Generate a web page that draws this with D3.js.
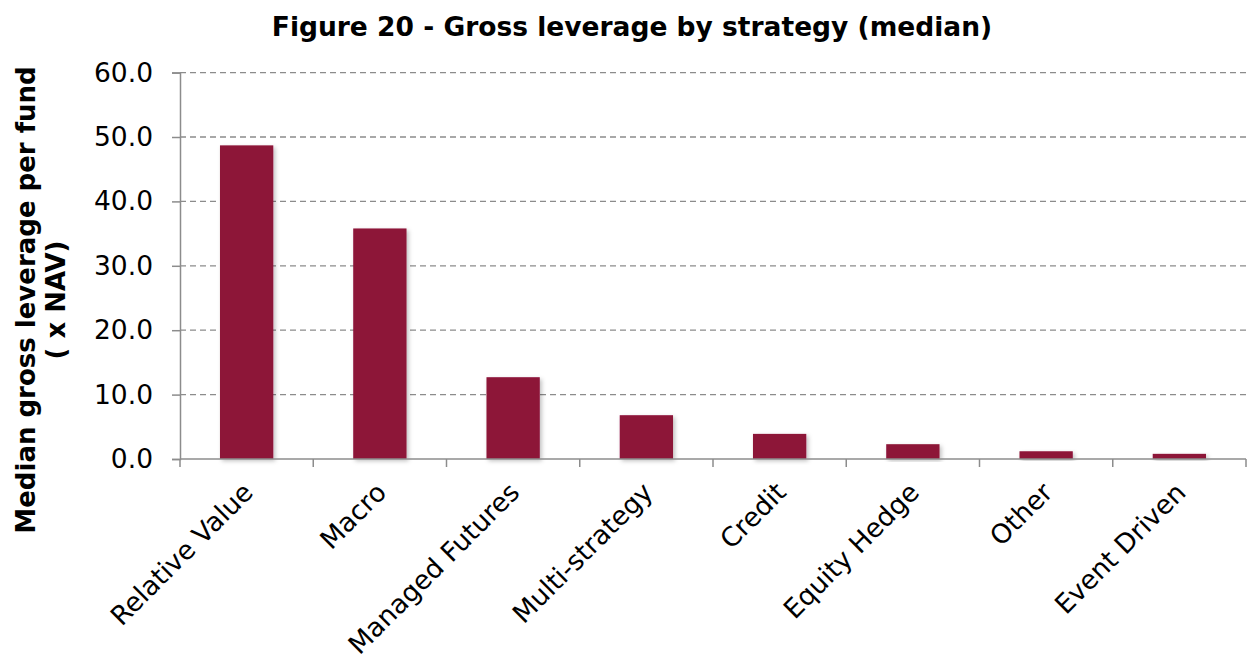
<!DOCTYPE html>
<html>
<head>
<meta charset="utf-8">
<script src="https://cdn.jsdelivr.net/npm/d3@7"></script>
<style>
  html, body { margin: 0; padding: 0; background: #fff; }
  svg text { font-family: "DejaVu Sans", Verdana, sans-serif; fill: #000; }
</style>
</head>
<body>
<svg id="chart" width="1248" height="660"></svg>
<script>
// Median gross leverage per fund, by strategy (x NAV)
const strategies = ["Relative Value", "Macro", "Managed Futures", "Multi-strategy",
                    "Credit", "Equity Hedge", "Other", "Event Driven"];
const leverage = [48.7, 35.8, 12.7, 6.8, 3.9, 2.3, 1.2, 0.8];
const yTicks = [0, 10, 20, 30, 40, 50, 60];

const svg = d3.select("#chart");
const margin = { left: 180, right: 2, top: 72.6, bottom: 201 };
const W = 1248, H = 660;
const FS = "26.5px";

const x = d3.scaleBand()
  .domain(strategies)
  .range([margin.left, W - margin.right])
  .paddingInner(0.6)
  .paddingOuter(0.3);

const y = d3.scaleLinear()
  .domain([0, 60])
  .range([H - margin.bottom, margin.top]);

// soft drop shadow under the bars
const defs = svg.append("defs");
const f = defs.append("filter").attr("id", "shadow")
  .attr("x", "-20%").attr("y", "-20%").attr("width", "140%").attr("height", "140%");
f.append("feDropShadow").attr("dx", 2).attr("dy", 2).attr("stdDeviation", 2)
  .attr("flood-color", "#000").attr("flood-opacity", 0.25);

// horizontal dashed gridlines
svg.append("g")
  .selectAll("line")
  .data(yTicks.filter(d => d > 0))
  .join("line")
  .attr("x1", margin.left).attr("x2", W - margin.right)
  .attr("y1", d => y(d)).attr("y2", d => y(d))
  .attr("stroke", "#8c8c8c").attr("stroke-width", 1.3)
  .attr("stroke-dasharray", "6,4");

// bars
svg.append("g")
  .selectAll("rect")
  .data(strategies)
  .join("rect")
  .attr("x", d => x(d))
  .attr("width", x.bandwidth())
  .attr("y", (d, i) => y(leverage[i]))
  .attr("height", (d, i) => y(0) - y(leverage[i]))
  .attr("fill", "#8d1538")
  .attr("filter", "url(#shadow)");

// y axis
const yAxis = d3.axisLeft(y)
  .tickValues(yTicks)
  .tickFormat(d3.format(".1f"))
  .tickSize(8)
  .tickPadding(19);
const gy = svg.append("g")
  .attr("transform", `translate(${margin.left},0)`)
  .call(yAxis);
gy.select(".domain").attr("stroke", "#8c8c8c").attr("stroke-width", 1.5);
gy.selectAll(".tick line").attr("stroke", "#8c8c8c").attr("stroke-width", 1.5);
gy.selectAll(".tick text").style("font-size", FS).attr("fill", "#000");

// x axis: baseline with ticks at category boundaries
const x0 = margin.left, x1 = W - margin.right;
const gx = svg.append("g");
gx.append("line")
  .attr("x1", x0).attr("x2", x1)
  .attr("y1", y(0)).attr("y2", y(0))
  .attr("stroke", "#8c8c8c").attr("stroke-width", 1.5);
const bounds = d3.range(strategies.length + 1).map(i => x0 + i * (x1 - x0) / strategies.length);
gx.selectAll("line.tk")
  .data(bounds)
  .join("line")
  .attr("class", "tk")
  .attr("x1", d => d).attr("x2", d => d)
  .attr("y1", y(0)).attr("y2", y(0) + 8)
  .attr("stroke", "#8c8c8c").attr("stroke-width", 1.5);

// rotated category labels
gx.selectAll("text")
  .data(strategies)
  .join("text")
  .attr("transform", d => `translate(${x(d) + x.bandwidth() / 2 + 8},${y(0) + 35}) rotate(-45)`)
  .attr("text-anchor", "end")
  .style("font-size", FS)
  .text(d => d);

// title
svg.append("text")
  .attr("x", 632).attr("y", 36)
  .attr("text-anchor", "middle")
  .style("font-size", FS).style("font-weight", "bold")
  .text("Figure 20 - Gross leverage by strategy (median)");

// y axis title (two lines)
const yt = svg.append("text")
  .attr("transform", "translate(0,300) rotate(-90)")
  .attr("text-anchor", "middle")
  .style("font-size", "26px").style("font-weight", "bold");
yt.append("tspan").attr("x", 0).attr("y", 35).text("Median gross leverage per fund");
yt.append("tspan").attr("x", 0).attr("y", 65).text("( x NAV)");
</script>
</body>
</html>
